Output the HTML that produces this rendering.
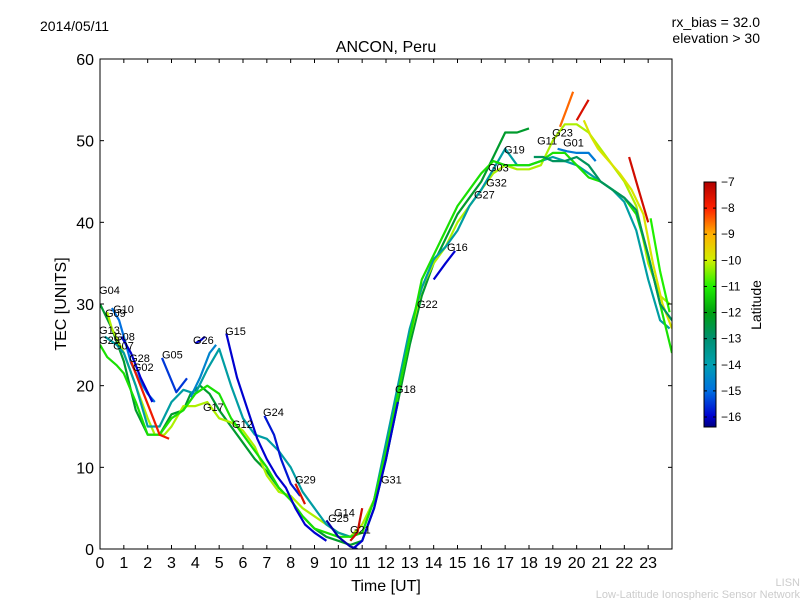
<!DOCTYPE html>
<html><head><meta charset="utf-8"><style>
body{margin:0;background:#fff;}
svg text{font-family:"Liberation Sans","DejaVu Sans",sans-serif;}
</style></head><body>
<svg id="chart" width="800" height="600" xmlns="http://www.w3.org/2000/svg">
<defs>
<linearGradient id="jet" x1="0" y1="1" x2="0" y2="0">
<stop offset="0" stop-color="#000080"/><stop offset="0.043" stop-color="#0000d0"/>
<stop offset="0.149" stop-color="#0070e0"/><stop offset="0.255" stop-color="#00a0b0"/>
<stop offset="0.362" stop-color="#009070"/><stop offset="0.468" stop-color="#00a010"/>
<stop offset="0.574" stop-color="#20f000"/><stop offset="0.681" stop-color="#d0f000"/>
<stop offset="0.787" stop-color="#ffb000"/><stop offset="0.894" stop-color="#ff2000"/>
<stop offset="1" stop-color="#b00000"/>
</linearGradient>
<clipPath id="pc"><rect x="100" y="59" width="572" height="490"/></clipPath>
</defs>
<text x="40" y="31" font-size="14">2014/05/11</text>
<text x="760" y="27" font-size="14" text-anchor="end">rx_bias = 32.0</text>
<text x="760" y="43" font-size="14" text-anchor="end">elevation &gt; 30</text>
<text x="386" y="52" font-size="16" text-anchor="middle">ANCON, Peru</text>
<text x="386" y="591" font-size="16" text-anchor="middle">Time [UT]</text>
<text x="0" y="0" font-size="16" text-anchor="middle" transform="translate(66,304) rotate(-90)">TEC [UNITS]</text>
<text x="800" y="586" font-size="11" fill="#ccc" text-anchor="end">LISN</text>
<text x="800" y="598" font-size="11" fill="#ccc" text-anchor="end">Low-Latitude Ionospheric Sensor Network</text>
<g id="tracks" clip-path="url(#pc)"></g>
<g id="labels"></g>
<rect x="100" y="59" width="572" height="490" fill="none" stroke="#000" stroke-width="1"/>
<g id="axes"></g>
<rect x="704" y="182" width="12" height="245" fill="url(#jet)" stroke="#000" stroke-width="1"/>
<g id="cbticks"></g>
<text x="0" y="0" font-size="14" text-anchor="middle" transform="translate(761,305) rotate(-90)">Latitude</text>
</svg>
<script>
const xTicks=[0,1,2,3,4,5,6,7,8,9,10,11,12,13,14,15,16,17,18,19,20,21,22,23];
const yTicks=[0,10,20,30,40,50,60];
const cbTicks=[-7,-8,-9,-10,-11,-12,-13,-14,-15,-16];
const trackNames=["A","B","C","D","E","F","G","H","I","J","K","L","M","N","O","P","Q","R","S","T","U","V","W","X"];
const trackLats=[-12.3,-10.2,-13.8,-11.2,-15.0,-16.0,-15.5,-7.8,-16.0,-14.6,-16.0,-15.8,-7.5,-16.2,-7.3,-7.4,-8.5,-7.5,-16.0,-16.0,-9.8,-12.8,-11.0,-14.8];
const trackTimes=[
[0,0.5,1,1.5,2,2.5,3,3.5,3.8,4.2,4.6,5,5.5,6,6.5,7,7.5,8,8.5,9,9.5,10,10.5,11,11.5,12,12.5,13,13.5,14,14.5,15,15.5,16,16.5,17,17.5,18],
[0.3,0.5,1,1.5,2,2.3,2.7,3,3.5,4,4.5,5,5.5,6,6.5,7,7.5,8,8.5,9,9.5,10,10.5,11,11.5,12,12.5,13,13.5,14,14.5,15,15.5,16,16.5,17,17.5,18,18.5,19,19.5,20,20.5,21,21.5,22,22.5,23,23.5,23.9],
[0.2,0.7,1,1.5,2,2.5,3,3.5,4,4.5,5,5.5,6,6.5,7,7.5,8,8.5,9,9.5,10,10.5,11,11.5,12,12.5,13,13.5,14,14.5,15,15.5,16,16.5,17,17.5,18,18.5,19,19.5,20,20.5,21,21.5,22,22.5,23,23.5,23.9],
[0,0.3,0.7,1,1.5,2,2.5,3,3.5,4,4.5,5,5.5,6,6.5,7,7.5,8,8.5,9,9.5,10,10.5,11,11.5,12,12.5,13,13.5,14,14.5,15,15.5,16,16.5,17,17.5,18,18.5,19,19.5,20,20.5,21,21.5,22,22.5,23,23.5,24],
[0.5,0.8,1,1.3,1.6,2,2.3],
[0.9,1.3,1.7,2.2],
[2.6,3.2,3.65],
[1.3,1.7,2.1,2.5,2.9],
[5.3,5.75,6.2,6.6,7,7.4,7.8,8.2,8.6,9,9.5],
[3.8,4.2,4.6,4.87],
[4,4.2,4.4],
[6.9,7.3,7.6,8,8.4],
[8.2,8.6],
[9.5,10,10.5,10.8],
[10.5,10.8,11],
[22.2,22.6,23],
[19.3,19.6,19.85],
[20,20.3,20.5],
[10.6,11,11.5,12,12.5],
[14,14.5,14.9],
[20.3,20.6,20.9,21.2,21.8,22.3,22.8,23.2,23.6,24],
[18.2,18.6,19,19.5,20,20.5,21,21.5,22,22.5,23,23.5,24],
[23.1,23.5,23.9],
[19.2,19.6,20,20.5,20.8]
];
const trackValues=[
[30,27,23,17,14,14,16.5,17,19,20,19,17,15,13,11,9.5,7.5,6,4,2.5,1.5,1,0.5,1,5,11,18,25,31,35,38,41,43,45,48,51,51,51.5],
[29,27,24,20,16,14,14,15,17.5,17.5,18,16,15.5,14.5,12.5,9,7,6.5,5,4,3,2,1.5,3,6,12,19,26,32,35,37,40,42,44,46,47,46.5,46.5,47,50,52,52,51,49,47,45,42,35,31,30],
[26,25,24,20,15,15,18,19.5,19,22,24.5,20,16,14,13.5,12,10,7,5,3,2,1.5,2,6,13,20,27,32,35.5,37,39,42,44,46.5,49,47,47,47.5,48,47.5,47,46,45,44,42.5,39,33,28,27],
[25,23.5,22.5,21.5,18,14,14,16,17,19,20,19,16,14,12,10,7.5,6,4,2.5,2,1.5,1.5,2,6,12,19,26,33,36,39,42,44,46,47.5,47,47,47,47.5,48.5,48.5,47,45.5,45,44,43,41,36,30,24],
[29.5,28,26,22.8,21,19,18],
[26,24,21,18],
[23.4,19.2,20.9],
[23,20,17,14,13.5],
[26.4,21,17,13.5,11,9,7.5,5,3,2,1],
[18.6,21,24,25],
[25.2,25.5,26],
[16.3,14,11,8,6.5],
[8,5.5],
[3.5,1.5,0.3,0],
[1,2,5],
[48,44,40],
[51.7,54,56],
[52.5,54,55],
[0,1,5,11,18],
[33,35,36.5],
[52.5,50.5,49,48,46,44,41,35,30,27],
[48,48,47.5,47.5,48,47,45,44,43,41.5,36,30,28],
[40.5,34,29],
[49,48.7,48.5,48.5,47.5]
];
const labelNames=["G04","G09","G10","G13","G29","G08","G07","G28","G02","G05","G26","G15","G17","G12","G24","G29","G25","G14","G21","G31","G18","G22","G16","G27","G32","G03","G19","G11","G23","G01"];
const labelTimes=[-0.04,0.21,0.55,-0.04,-0.04,0.59,0.55,1.22,1.38,2.6,3.9,5.25,4.32,5.54,6.84,8.18,9.57,9.82,10.49,11.79,12.38,13.3,14.56,15.69,16.2,16.28,16.95,18.34,18.97,19.43];
const labelValues=[31.7,28.9,29.4,26.8,25.6,26.0,24.9,23.4,22.3,23.8,25.6,26.7,17.4,15.3,16.8,8.5,3.8,4.5,2.4,8.5,19.6,30.0,37.0,43.4,44.9,46.7,48.9,50.0,51.0,49.8];

const X=t=>100+t*572/24, Y=v=>549-v*490/60;
const CBY=l=>182+(-7-l)*(235/9);
const cmapLat=[-16.4,-16,-15,-14,-13,-12,-11,-10,-9,-8,-7];
const cmapRGB=[[0,0,128],[0,0,208],[0,112,224],[0,160,176],[0,144,112],[0,160,16],[32,240,0],[208,240,0],[255,176,0],[255,32,0],[176,0,0]];
function jet(l){l=Math.max(-16.4,Math.min(-7,l));let i=0;while(i<cmapLat.length-2&&l>cmapLat[i+1])i++;
 const f=(l-cmapLat[i])/(cmapLat[i+1]-cmapLat[i]);const a=cmapRGB[i],b=cmapRGB[i+1];
 return 'rgb('+a.map((v,k)=>Math.round(v+(b[k]-v)*f)).join(',')+')';}
const NS="http://www.w3.org/2000/svg";
const tg=document.getElementById('tracks');
trackTimes.forEach((ts,i)=>{
 const p=document.createElementNS(NS,'polyline');
 p.setAttribute('points',ts.map((t,j)=>X(t).toFixed(1)+','+Y(trackValues[i][j]).toFixed(1)).join(' '));
 p.setAttribute('fill','none');p.setAttribute('stroke',jet(trackLats[i]));p.setAttribute('stroke-width','2.2');
 p.setAttribute('stroke-linejoin','round');
 
 
 tg.appendChild(p);
});
const lg=document.getElementById('labels');
labelNames.forEach((n,i)=>{
 const t=document.createElementNS(NS,'text');
 t.setAttribute('x',X(labelTimes[i]));t.setAttribute('y',Y(labelValues[i])+4);
 t.setAttribute('font-size','11');t.textContent=n;
 
 
 lg.appendChild(t);
});
const ax=document.getElementById('axes');
function line(x1,y1,x2,y2){const l=document.createElementNS(NS,'line');l.setAttribute('x1',x1);l.setAttribute('y1',y1);l.setAttribute('x2',x2);l.setAttribute('y2',y2);l.setAttribute('stroke','#000');
 
 
 ax.appendChild(l);}
function txt(x,y,s,anchor,size,g){const t=document.createElementNS(NS,'text');t.setAttribute('x',x);t.setAttribute('y',y);t.setAttribute('text-anchor',anchor);t.setAttribute('font-size',size);t.textContent=s;
 
 
 g.appendChild(t);}
xTicks.forEach(t=>{const x=X(t);line(x,549,x,545);line(x,59,x,63);txt(x,568,t,'middle',16,ax);});
yTicks.forEach(v=>{const y=Y(v);line(100,y,104,y);line(672,y,668,y);txt(94,y+6,v,'end',16,ax);});
const cg=document.getElementById('cbticks');
cbTicks.forEach(l=>{const y=CBY(l);const a=document.createElementNS(NS,'line');a.setAttribute('x1',704);a.setAttribute('x2',707);a.setAttribute('y1',y);a.setAttribute('y2',y);a.setAttribute('stroke','#000');
 
 
 cg.appendChild(a);
 const b=a.cloneNode();b.setAttribute('x1',716);b.setAttribute('x2',713);cg.appendChild(b);
 txt(721,y+4,'\u2212'+(-l),'start',12,cg);});
</script>
</body></html>
